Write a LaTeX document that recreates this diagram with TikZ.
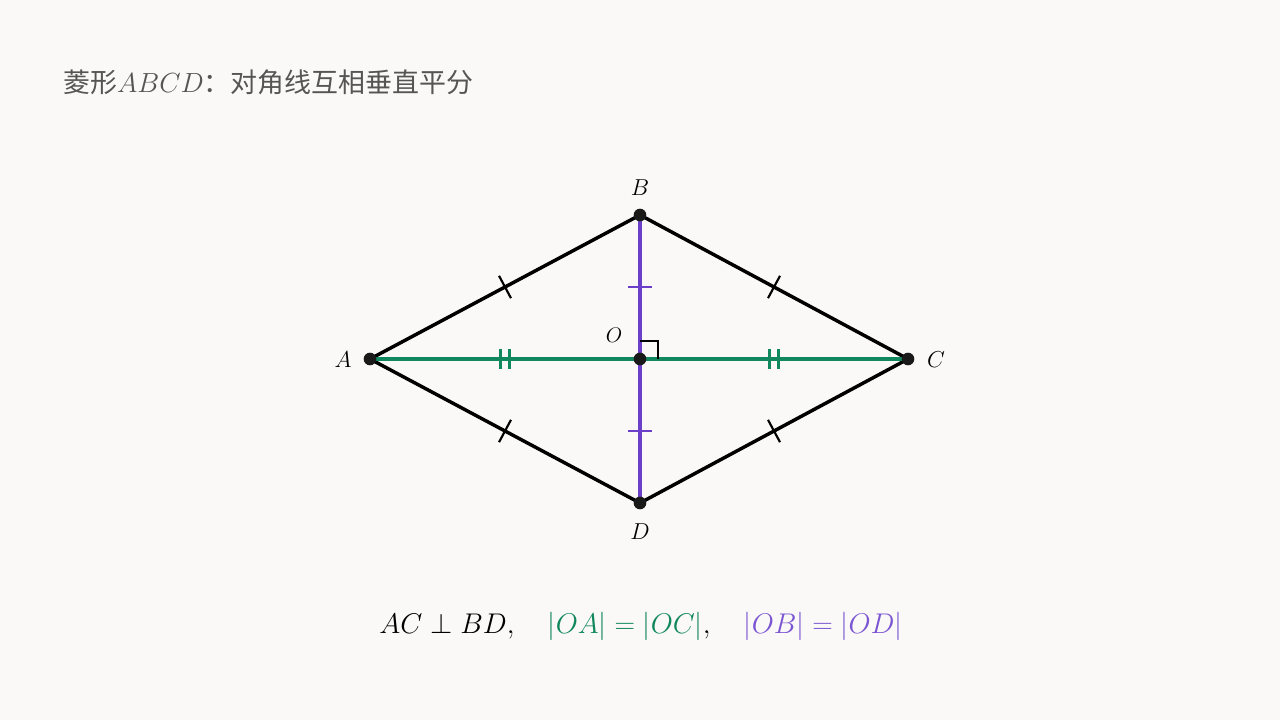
\documentclass[tikz,border=0pt]{standalone}
\usepackage{fontspec}
\newfontfamily\cjk{Noto Sans CJK SC}
\usetikzlibrary{calc}
\definecolor{bg}{HTML}{FAF9F7}
\definecolor{titlegray}{HTML}{555555}
\definecolor{diagA}{HTML}{11875F}
\definecolor{diagB}{HTML}{6B3FC8}
\definecolor{fmB}{HTML}{7B55D2}
\begin{document}
\begin{tikzpicture}[x=0.75pt,y=-0.75pt,
  side/.style={line width=2.6pt,black,line cap=round},
  diag/.style={line width=2.5pt},
  tick/.style={line width=1.6pt},
  vert/.style={circle,fill=black!90,inner sep=0pt,minimum size=9.5pt},
  lab/.style={font=\fontsize{17.28}{19}\selectfont}]
\fill[bg] (0,0) rectangle (1280,720);
\useasboundingbox (0,0) rectangle (1280,720);
\coordinate (A) at (370,359);
\coordinate (B) at (640,215);
\coordinate (C) at (908,359);
\coordinate (D) at (640,503);
\coordinate (O) at (640,359);
% sides
\draw[side] (A) -- (B) -- (C) -- (D) -- cycle;
% diagonals
\draw[diag,diagA] (A) -- (C);
\draw[diag,diagB] (B) -- (D);
% right angle
\draw[line width=1.7pt] ($(O)+(0,-18)$) -- ++(18,0) -- ++(0,18);
% side ticks
\foreach \p/\q in {A/B,B/C,C/D,D/A}{
  \draw[tick] ($(\p)!0.5!(\q)!9.5pt!90:(\q)$) -- ($(\p)!0.5!(\q)!9.5pt!-90:(\q)$);
}
% purple ticks
\foreach \q in {B,D}{
  \draw[tick,diagB] ($(O)!0.5!(\q)+(-12,0)$) -- ($(O)!0.5!(\q)+(12,0)$);
}
% green double ticks
\foreach \q in {A,C}{
  \draw[tick,diagA] ($(O)!0.5!(\q)+(-4.5,-10)$) -- ($(O)!0.5!(\q)+(-4.5,10)$);
  \draw[tick,diagA] ($(O)!0.5!(\q)+(4.5,-10)$) -- ($(O)!0.5!(\q)+(4.5,10)$);
}
% vertices
\node[vert] (nA) at (A) {};
\node[vert] (nB) at (B) {};
\node[vert] (nC) at (C) {};
\node[vert] (nD) at (D) {};
\node[vert] (nO) at (O) {};
% labels
\node[lab] (lA) at (343,360) {$A$};
\node[lab] (lB) at (640,188) {$B$};
\node[lab] (lC) at (936,360) {$C$};
\node[lab] (lD) at (640,532) {$D$};
\node[font=\fontsize{14.4}{16}\selectfont,scale=1.1] (lO) at (614,335) {$O$};
% title
\node[anchor=base west,inner sep=0pt,text=titlegray,font=\fontsize{20.2}{24}\selectfont] (title) at (63,93)
  {{\cjk 菱形}$ABCD${\cjk ：对角线互相垂直平分}};
% formula
\node[anchor=base,inner sep=0pt,font=\fontsize{20.74}{24}\selectfont,scale=1.03] (fm) at (641,633)
  {$AC\perp BD,\quad \textcolor{diagA}{|OA|=|OC|},\quad \textcolor{fmB}{|OB|=|OD|}$};
\end{tikzpicture}
\end{document}
